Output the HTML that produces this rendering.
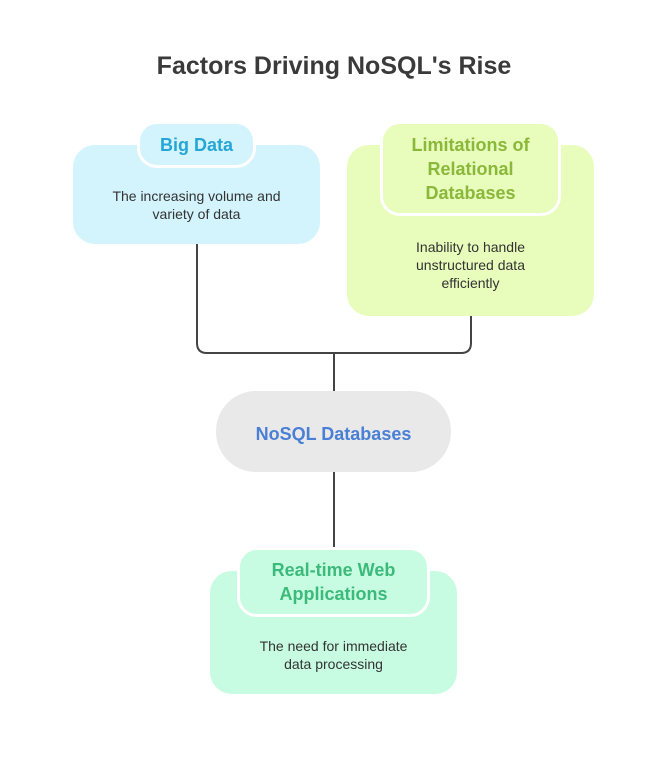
<!DOCTYPE html>
<html><head><meta charset="utf-8"><style>
body{margin:0;width:668px;height:757px;background:#fff;position:relative;font-family:"Liberation Sans",sans-serif;overflow:hidden}
div{position:absolute;box-sizing:border-box}
.t{display:flex;align-items:center;justify-content:center;text-align:center}
.title{left:0;width:668px;top:52px;font-size:25px;font-weight:bold;color:#3a3a3a;text-align:center}
.desc{font-size:14px;color:#333;line-height:18px;text-align:center}
.h{font-weight:bold;font-size:18px;line-height:24px;border:3px solid #fff}
</style></head><body>
<svg width="668" height="757" style="position:absolute;left:0;top:0">
<path d="M197 244 V343 Q197 353 207 353 H461 Q471 353 471 343 V316 M334 353 V391 M334 472 V547" fill="none" stroke="#444" stroke-width="2"/>
</svg>
<div class="title">Factors Driving NoSQL's Rise</div>

<div style="left:73px;top:145px;width:247px;height:99px;background:#d3f3fd;border-radius:22px"></div>
<div class="t h" style="left:137px;top:121px;width:119px;height:47px;background:#d3f3fd;border-radius:20px;color:#25a6d6">Big Data</div>
<div class="desc" style="left:73px;top:187px;width:247px">The increasing volume and<br>variety of data</div>

<div style="left:347px;top:145px;width:247px;height:171px;background:#e8fcbb;border-radius:22px"></div>
<div class="t h" style="left:380px;top:121px;width:181px;height:95px;background:#e8fcbb;border-radius:20px;color:#8ab83a">Limitations of<br>Relational<br>Databases</div>
<div class="desc" style="left:347px;top:238px;width:247px">Inability to handle<br>unstructured data<br>efficiently</div>

<div class="t" style="left:216px;top:391px;width:235px;height:81px;padding-top:5px;background:#e9e9e9;border-radius:40px;color:#4a7fd6;font-weight:bold;font-size:18px">NoSQL Databases</div>

<div style="left:210px;top:571px;width:247px;height:123px;background:#c8fce2;border-radius:22px"></div>
<div class="t h" style="left:237px;top:547px;width:193px;height:70px;background:#c8fce2;border-radius:20px;color:#3cba7a">Real-time Web<br>Applications</div>
<div class="desc" style="left:210px;top:637px;width:247px">The need for immediate<br>data processing</div>
</body></html>
